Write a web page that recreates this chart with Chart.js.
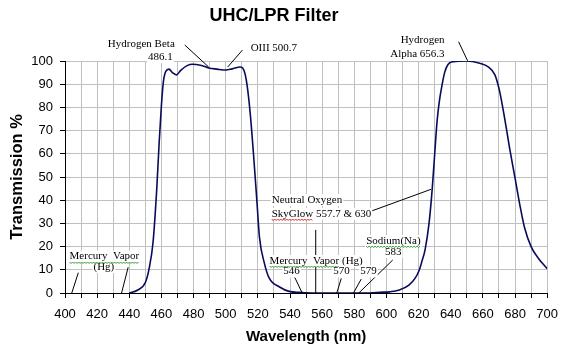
<!DOCTYPE html>
<html><head><meta charset="utf-8">
<script src="https://cdn.jsdelivr.net/npm/chart.js@4/dist/chart.umd.min.js"></script>
<style>html,body{margin:0;padding:0;background:#fff}#wrap{width:567px;height:356px;position:relative}</style>
</head><body><div id="wrap"><canvas id="c"></canvas></div>
<script>
// ---- data ----
const wavelengths = [440,445,450,452.4,454.8,457.1,458.6,460,461.2,462.7,464.7,466.8,469.3,472,476,479.2,484.3,489.5,494.6,500,504,509,511.5,513.2,515.3,517.3,519.4,521,524,527,533.5,540,546,550,560,590,596,602,608,614,618,620.5,622,624,626.5,628.5,630,631.5,633,634.7,636.2,638.3,641.5,650,658,663.3,667.5,670.4,673.5,676.6,680,683,686,690,694.5,700];
const transmission = [0,1.2,4.5,10.7,22,45,65,81,91,95.5,96.5,95,94,96,98,98.6,98.2,97,96.5,96.1,96.6,97.4,95.7,90,77,59.7,39.6,24,13,6.5,2.6,0.6,0.3,0.1,0,0,0.3,0.5,1.3,3.4,6.5,10,13.5,18.5,30,45,59.7,74,83,90,95,98.5,99.7,100,99,97.5,94,87,75.5,62.6,49.6,38,28,20,15,10.5];

const titleText = 'UHC/LPR Filter';
const xTitle = 'Wavelength (nm)';
const yTitle = 'Transmission %';
const xMin = 400, xMax = 700, xStep = 10, xLabelEvery = 20;
const yMin = 0, yMax = 100, yStep = 10;

// annotation texts and their anchor points (in wavelength / % units)
const noteTexts = ['Hydrogen Beta','486.1','OIII 500.7','Hydrogen','Alpha 656.3','Neutral Oxygen','SkyGlow 557.7 & 630','Mercury  Vapor (Hg)','546','570','579','Sodium(Na)','583','Mercury  Vapor','(Hg)'];
const noteWl   = [468.3,467.1,515.5,636.2,636.2,528.6,528.6,527.3,541,572,588.8,587.4,604.3,424.5,424.2];
const notePct  = [107.3,101.7,105.6,108.8,103,40.1,34.1,13.8,9.3,9.3,9.3,22.4,17.7,15.7,11.2];
const noteAlign= ['right','right','left','right','right','left','left','left','center','center','center','left','center','center','center'];
// leader lines: [wl1, pct1, wl2, pct2]
const leaderLines = [
  [474.5,106.9,489.4,97.4],
  [510.4,104.7,501.2,97.4],
  [644.9,108.3,650.5,100.1],
  [589.4,35.0,627.8,44.7],
  [556,27.2,556,0],
  [542.9,6.8,547.6,0],
  [571.9,6.3,569.1,0],
  [584.3,6.0,579.5,0],
  [603.9,14.2,582.8,0],
  [408.3,8.75,404.2,0],
  [439.3,11.1,435.2,0]
];
// spell-check style underlines: [note index, underlined substring, kind]
const squiggles = [[6,'SkyGlow','red'],[7,'Mercury  Vapor','green'],[11,'Sodium(Na)','green'],[13,'Mercury  Vapor','green']];

const SERIF = '"Liberation Serif","Times New Roman",serif';
const SANS = '"Liberation Sans",Arial,sans-serif';

const notesPlugin = {
  id: 'notes',
  afterDatasetsDraw(chart) {
    const ctx = chart.ctx, xs = chart.scales.x, ys = chart.scales.y;
    ctx.save();
    ctx.strokeStyle = '#000';
    ctx.lineWidth = 1;
    leaderLines.forEach(l => {
      ctx.beginPath();
      ctx.moveTo(xs.getPixelForValue(l[0]), ys.getPixelForValue(l[1]));
      ctx.lineTo(xs.getPixelForValue(l[2]), ys.getPixelForValue(l[3]));
      ctx.stroke();
    });
    ctx.font = '11px ' + SERIF;
    ctx.textBaseline = 'middle';
    const boxes = [];
    noteTexts.forEach((t, i) => {
      const px = xs.getPixelForValue(noteWl[i]);
      const py = ys.getPixelForValue(notePct[i]);
      const w = ctx.measureText(t).width;
      let left = px;
      if (noteAlign[i] === 'right') left = px - w;
      else if (noteAlign[i] === 'center') left = px - w / 2;
      ctx.fillStyle = '#fff';
      ctx.fillRect(left - 1, py - 6, w + 2, 12);
      ctx.fillStyle = '#000';
      ctx.textAlign = 'left';
      ctx.fillText(t, left, py);
      boxes[i] = {left, py};
    });
    squiggles.forEach(s => {
      const b = boxes[s[0]];
      const t = noteTexts[s[0]];
      const start = t.indexOf(s[1]);
      const x0 = b.left + ctx.measureText(t.slice(0, start)).width;
      const w = ctx.measureText(s[1]).width;
      const yb = Math.round(b.py + 5) + 0.5;
      ctx.strokeStyle = s[2] === 'red' ? '#e02020' : '#2e9a2e';
      ctx.beginPath();
      for (let k = 0, x = x0; x <= x0 + w; k++, x += 1.5) {
        const yy = yb + (k % 2 ? 1 : -0.5);
        if (k === 0) ctx.moveTo(x, yy); else ctx.lineTo(x, yy);
      }
      ctx.stroke();
    });
    ctx.restore();
  }
};

new Chart(document.getElementById('c'), {
  type: 'line',
  data: {
    datasets: [{
      data: wavelengths.map((w, i) => ({x: w, y: transmission[i]})),
      borderColor: '#0a0a5c',
      borderWidth: 1.6,
      pointRadius: 0,
      fill: false,
      cubicInterpolationMode: 'monotone'
    }]
  },
  options: {
    responsive: true,
    maintainAspectRatio: false,
    animation: false,
    layout: {padding: {left: 0, right: 19, top: 0, bottom: 0}},
    plugins: {
      legend: {display: false},
      tooltip: {enabled: false},
      title: {
        display: true, text: titleText, color: '#000',
        font: {family: SANS, size: 18, weight: 'bold'},
        padding: {top: 5.5, bottom: 33.9}
      }
    },
    scales: {
      x: {
        type: 'linear', min: xMin, max: xMax,
        afterFit: s => { s.height = 63; },
        ticks: {
          stepSize: xStep, autoSkip: false, maxRotation: 0, padding: 9, color: '#000',
          font: {family: SANS, size: 13},
          callback: v => (v % xLabelEvery === 0 ? String(v) : '')
        },
        grid: {color: '#c0c0c0', lineWidth: 1, tickColor: '#000', tickLength: 5},
        border: {color: '#000', width: 1},
        title: {display: true, text: xTitle, color: '#000', font: {family: SANS, size: 15, weight: 'bold'}, padding: {top: 0, bottom: 10}}
      },
      y: {
        min: yMin, max: yMax,
        afterFit: s => { s.width = 65; },
        ticks: {stepSize: yStep, padding: 7, color: '#000', font: {family: SANS, size: 13}},
        grid: {color: '#c0c0c0', lineWidth: 1, tickColor: '#000', tickLength: 5},
        border: {color: '#000', width: 1},
        title: {display: true, text: yTitle, color: '#000', font: {family: SANS, size: 16.5, weight: 'bold'}, padding: {top: 7.5, bottom: 0}}
      }
    }
  },
  plugins: [notesPlugin]
});
</script>
</body></html>
